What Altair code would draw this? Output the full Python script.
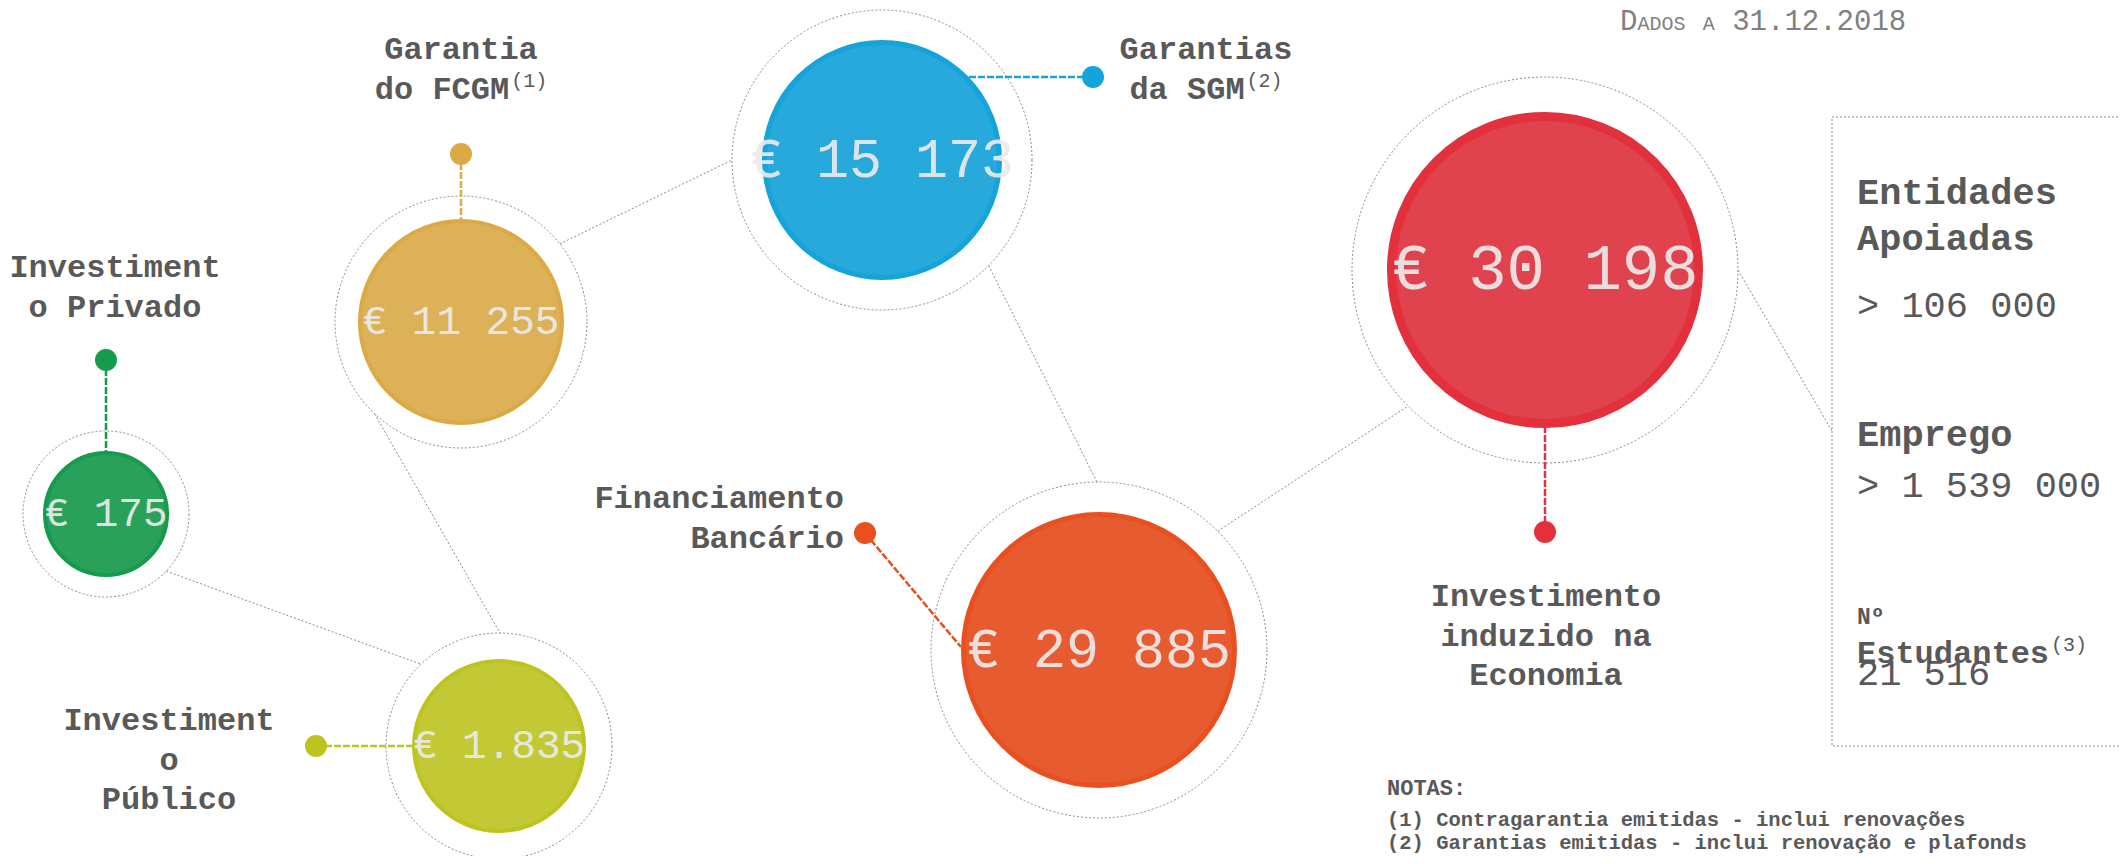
import math
import altair as alt
import pandas as pd

# ---------------- data ----------------
categories = ["Investimento Privado", "Investimento Público", "Garantia do FCGM",
              "Garantias da SGM", "Financiamento Bancário", "Investimento induzido na Economia"]
value_labels = ["€ 175", "€ 1.835", "€ 11 255", "€ 15 173", "€ 29 885", "€ 30 198"]
label_lines = [["Investiment", "o Privado"],
               ["Investiment", "o", "Público"],
               ["Garantia", "do FCGM"],
               ["Garantias", "da SGM"],
               ["Financiamento", "Bancário"],
               ["Investimento", "induzido na", "Economia"]]
label_sup = ["", "", "(1)", "(2)", "", ""]
box_titles = [["Entidades", "Apoiadas"], ["Emprego"], ["Nº", "Estudantes"]]
box_title_sup = ["", "", "(3)"]
box_values = ["> 106 000", "> 1 539 000", "21 516"]
notes_title = "NOTAS:"
notes_lines = ["(1) Contragarantia emitidas - inclui renovações",
               "(2) Garantias emitidas - inclui renovação e plafonds"]
date_label = "Dados a 31.12.2018"
connections = [(0, 1), (2, 1), (2, 3), (3, 4), (4, 5)]

# ---------------- layout & style ----------------
OFF, W, H = 8, 2111, 848
CW = 0.6
FONT = "Liberation Mono"
TXT = "#595959"
fills = ["#29A15B", "#C3C934", "#DDB158", "#27A9DB", "#E75B31", "#E1434E"]
edges = ["#149B4B", "#BDC420", "#DBAA45", "#15A3DB", "#E9501F", "#E2313D"]
edge_w = [4, 4, 4, 5, 5, 9]
centers = [(106, 514), (499, 746), (461, 322), (882, 160), (1099, 650), (1545, 270)]
radii = [63, 87, 103, 120, 138, 158]
ring_r = [83, 113, 126, 150, 168, 193]
value_fs = [41, 41, 41, 55, 55, 64]
pins = [(106, 360), (316, 746), (461, 154), (1093, 77), (865, 533), (1545, 532)]
pin_to = [(106, 451), (413, 746), (461, 219), (969, 77), (961, 647), (1545, 428)]
PIN_R = 11
label_pos = [(115, 277, "center"), (169, 730, "center"), (461, 59, "center"),
             (1206, 59, "center"), (844, 508, "right"), (1546, 606, "center")]
LABEL_FS, LABEL_LH = 32, 39.5
SUP_FS = 20
conn_angles = [(43.5, -133.6), (133.3, -89.5), (-38.3, 180.0), (44.7, -90.7), (-45.0, 135.2)]
box = (1832, 117, 2123, 746)
red_box_end = (1832, 431)
box_x = 1857
box_title_y = [[204, 250], [446], [624, 663]]
box_title_fs = [[37, 37], [37], [23, 32]]
box_value_y = [317, 497, 685]
BOX_FS = 37
notes_x = 1387
notes_y = [795, 826, 849]
notes_fs = [22, 20.5, 20.5]
date_x, date_y, date_big, date_small = 1620, 30, 29, 20

X = alt.X("x:Q", scale=alt.Scale(domain=[OFF, OFF + W], nice=False, zero=False), axis=None)
Y = alt.Y("y:Q", scale=alt.Scale(domain=[OFF, OFF + H], nice=False, zero=False, reverse=True), axis=None)

# bubbles (Vega circle symbol: size = (diameter)^2)
bdf = pd.DataFrame({
    "cat": categories,
    "x": [c[0] for c in centers],
    "y": [c[1] for c in centers],
    "size": [(2 * (r - w / 2)) ** 2 for r, w in zip(radii, edge_w)],
    "ring": [(2 * r) ** 2 for r in ring_r],
    "fill": fills, "edge": edges, "sw": edge_w,
})
bubbles = alt.Chart(bdf).mark_circle(opacity=1).encode(
    X, Y, size=alt.Size("size:Q", scale=None),
    color=alt.Color("fill:N", scale=None),
    stroke=alt.Stroke("edge:N", scale=None),
    strokeWidth=alt.StrokeWidth("sw:Q", scale=None))
rings = alt.Chart(bdf).mark_point(filled=False, shape="circle", opacity=1, strokeWidth=1,
                                  strokeDash=[2, 2], color="#8a8a8a").encode(
    X, Y, size=alt.Size("ring:Q", scale=None))

# connectors
crow = []
for (a, b), (aa, ab) in zip(connections, conn_angles):
    ax_, ay_ = centers[a]
    bx_, by_ = centers[b]
    crow.append({"x": ax_ + ring_r[a] * math.cos(math.radians(aa)),
                 "y": ay_ + ring_r[a] * math.sin(math.radians(aa)),
                 "x2": bx_ + ring_r[b] * math.cos(math.radians(ab)),
                 "y2": by_ + ring_r[b] * math.sin(math.radians(ab))})
crow.append({"x": centers[5][0] + ring_r[5], "y": centers[5][1],
             "x2": red_box_end[0], "y2": red_box_end[1]})
connectors = alt.Chart(pd.DataFrame(crow)).mark_rule(
    color="#8a8a8a", strokeWidth=1, strokeDash=[2, 2]).encode(X, Y, x2="x2:Q", y2="y2:Q")

# pins
pdf = pd.DataFrame({"x": [p[0] for p in pins], "y": [p[1] for p in pins],
                    "x2": [p[0] for p in pin_to], "y2": [p[1] for p in pin_to],
                    "c": edges})
pin_lines = alt.Chart(pdf).mark_rule(strokeWidth=2.5, strokeDash=[7, 2]).encode(
    X, Y, x2="x2:Q", y2="y2:Q", color=alt.Color("c:N", scale=None))
pin_dots = alt.Chart(pdf).mark_circle(opacity=1, size=(2 * PIN_R) ** 2).encode(
    X, Y, color=alt.Color("c:N", scale=None))

# texts
bold_rows, norm_rows, val_rows = [], [], []
for i, (cx, cy) in enumerate(centers):
    t = value_labels[i]
    fs = value_fs[i]
    val_rows.append({"x": cx - len(t) * CW * fs / 2, "y": cy + 0.3 * fs, "t": t, "fs": fs, "c": "#EBEBEB"})
for i, lines in enumerate(label_lines):
    ax_, y0, al = label_pos[i]
    for j, line in enumerate(lines):
        sup = label_sup[i] if j == len(lines) - 1 else ""
        wline = len(line) * CW * LABEL_FS
        total = wline + (2 + len(sup) * CW * SUP_FS if sup else 0)
        start = ax_ - total / 2 if al == "center" else ax_ - total
        y = y0 + j * LABEL_LH
        bold_rows.append({"x": start, "y": y, "t": line, "fs": LABEL_FS, "c": TXT})
        if sup:
            norm_rows.append({"x": start + wline + 2, "y": y - 12, "t": sup, "fs": SUP_FS, "c": TXT})
for k, titles in enumerate(box_titles):
    for j, line in enumerate(titles):
        fs = box_title_fs[k][j]
        y = box_title_y[k][j]
        bold_rows.append({"x": box_x, "y": y, "t": line, "fs": fs, "c": TXT})
        if j == len(titles) - 1 and box_title_sup[k]:
            norm_rows.append({"x": box_x + len(line) * CW * fs + 2, "y": y - 12,
                              "t": box_title_sup[k], "fs": SUP_FS, "c": TXT})
    norm_rows.append({"x": box_x, "y": box_value_y[k], "t": box_values[k], "fs": BOX_FS, "c": TXT})
for j, line in enumerate([notes_title] + notes_lines):
    bold_rows.append({"x": notes_x, "y": notes_y[j], "t": line, "fs": notes_fs[j], "c": TXT})

# small caps date: lowercase letters drawn as smaller capitals; spaces only advance
xx = date_x
for word_i, word in enumerate(date_label.split(" ")):
    if word_i > 0:
        xx += CW * date_big
    run, run_small = "", None
    runs = []
    for ch in word:
        small = ch.islower()
        if run and small != run_small:
            runs.append((run, run_small))
            run = ""
        run += ch.upper()
        run_small = small
    runs.append((run, run_small))
    for txt, small in runs:
        fs = date_small if small else date_big
        norm_rows.append({"x": xx, "y": date_y, "t": txt, "fs": fs, "c": "#808080"})
        xx += len(txt) * CW * fs


def text_layer(rows, weight, opacity=1.0):
    return alt.Chart(pd.DataFrame(rows)).mark_text(
        align="left", baseline="alphabetic", font=FONT, fontWeight=weight, opacity=opacity).encode(
        X, Y, text="t:N", size=alt.Size("fs:Q", scale=None), color=alt.Color("c:N", scale=None))


values_txt = text_layer(val_rows, "normal", 0.92)
bold_txt = text_layer(bold_rows, "bold")
norm_txt = text_layer(norm_rows, "normal")

boxdf = pd.DataFrame({"x": [box[0]], "y": [box[1]], "x2": [box[2]], "y2": [box[3]]})
box_mark = alt.Chart(boxdf).mark_rect(fill="transparent", stroke="#8a8a8a", strokeWidth=1,
                                      strokeDash=[2, 2]).encode(X, Y, x2="x2:Q", y2="y2:Q")

chart = alt.layer(connectors, rings, pin_lines, bubbles, pin_dots, values_txt, bold_txt,
                  norm_txt, box_mark).properties(
    width=W, height=H, padding=0, background="white",
    autosize=alt.AutoSizeParams(type="none")).configure_view(strokeWidth=0)

chart.save("out.html", embed_options={"renderer": "svg", "actions": False})
